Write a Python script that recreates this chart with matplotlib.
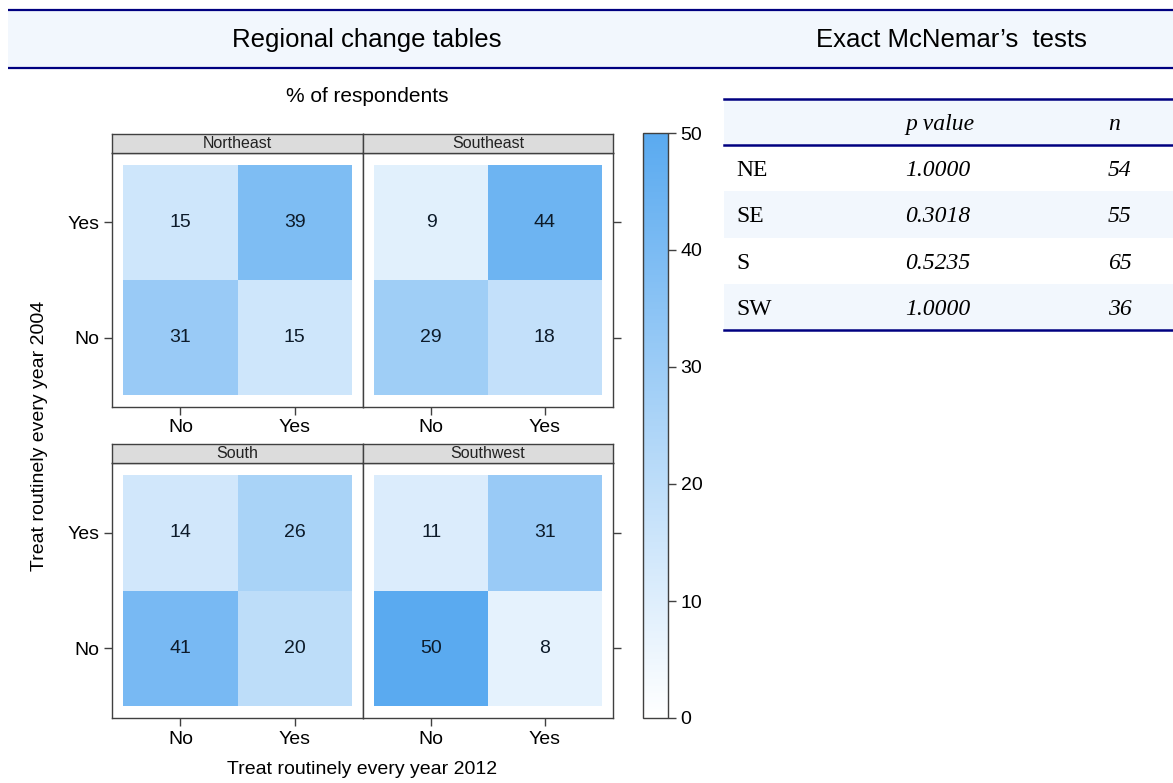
import numpy as np
import matplotlib
matplotlib.use("Agg")
import matplotlib.pyplot as plt
from matplotlib.colors import LinearSegmentedColormap
from matplotlib.patches import Rectangle

W, H = 1173, 783

# % of respondents; rows = answer in 2004 (No, Yes), cols = answer in 2012 (No, Yes)
regions = ['Northeast', 'Southeast', 'South', 'Southwest']
answers = ['No', 'Yes']
pct_northeast = [[31, 15], [15, 39]]
pct_southeast = [[29, 18], [9, 44]]
pct_south = [[41, 20], [14, 26]]
pct_southwest = [[50, 8], [11, 31]]

# McNemar table
table_regions = ['NE', 'SE', 'S', 'SW']
p_values = ['1.0000', '0.3018', '0.5235', '1.0000']
n_values = [54, 55, 65, 36]

plt.rcParams['font.family'] = ['Liberation Sans', 'DejaVu Sans']
navy = '#000080'
light = '#f2f7fd'
edge = '#404040'
cmap = LinearSegmentedColormap.from_list('blues', ['#ffffff', '#5aaaf0'])


def box(x0, y0, x1, y1):
    # pixel box measured from top-left -> figure fraction rect
    return [x0 / W, 1 - y1 / H, (x1 - x0) / W, (y1 - y0) / H]


fig = plt.figure(figsize=(W / 100, H / 100), dpi=100)

# background overlay in pixel coords
bg = fig.add_axes([0, 0, 1, 1], zorder=-5)
bg.set_xlim(0, W)
bg.set_ylim(H, 0)
bg.axis('off')

# header band
bg.add_patch(Rectangle((8, 10), W - 8, 58, facecolor=light, edgecolor='none'))
bg.hlines([10, 68], 8, W, color=navy, lw=1.6)
bg.text(367, 40, 'Regional change tables', fontsize=18.5, ha='center', va='center')
bg.text(951, 40, 'Exact McNemar\u2019s  tests', fontsize=18.5, ha='center', va='center')

# panel title and axis labels
bg.text(367, 97, '% of respondents', fontsize=15, ha='center', va='center')
bg.text(362, 770, 'Treat routinely every year 2012', fontsize=14, ha='center', va='center')
bg.text(40, 436, 'Treat routinely every year 2004', fontsize=14, ha='center', va='center',
        rotation=90)

# lattice panels
panel_data = [pct_northeast, pct_southeast, pct_south, pct_southwest]
cols = [(112, 363), (363, 613)]
rows = [(153, 407), (463, 718)]
strips = [(134, 153), (444, 463)]
edges = np.array([-0.5, 0.5, 1.5])
mesh = None
for k, (name, vals) in enumerate(zip(regions, panel_data)):
    r, c = divmod(k, 2)
    x0, x1 = cols[c]
    y0, y1 = rows[r]
    ax = fig.add_axes(box(x0, y0, x1, y1))
    vals = np.array(vals)
    mesh = ax.pcolormesh(edges, edges, vals, cmap=cmap, vmin=0, vmax=50)
    for i in range(2):
        for j in range(2):
            ax.text(j, i, str(vals[i, j]), ha='center', va='center', fontsize=14,
                    color='#0d1b2a', weight='medium')
    ax.set_xlim(-0.6, 1.6)
    ax.set_ylim(-0.6, 1.6)
    ax.set_xticks([0, 1])
    ax.set_xticklabels(answers, fontsize=14)
    ax.set_yticks([0, 1])
    if c == 0:
        ax.set_yticklabels(answers, fontsize=14)
        ax.tick_params(axis='y', left=True, right=False)
    else:
        ax.yaxis.tick_right()
        ax.set_yticklabels([])
    ax.tick_params(direction='out', length=6, width=1, color=edge, pad=3)
    for s in ax.spines.values():
        s.set_color(edge)
        s.set_linewidth(1)

    sa = fig.add_axes(box(x0, strips[r][0], x1, strips[r][1]))
    sa.set_facecolor('#dcdcdc')
    sa.set_xticks([])
    sa.set_yticks([])
    for s in sa.spines.values():
        s.set_color(edge)
        s.set_linewidth(1)
    sa.text(0.5, 0.5, name, transform=sa.transAxes, ha='center', va='center',
            fontsize=11.5, color='#222222')

# colour key
cax = fig.add_axes(box(643, 133, 668, 718))
cb = fig.colorbar(mesh, cax=cax, ticks=range(0, 51, 10))
cb.outline.set_edgecolor(edge)
cb.outline.set_linewidth(1)
cax.tick_params(direction='out', length=6, width=1, color=edge, labelsize=14, pad=3)

# McNemar table
tx0, ty0, tx1, ty1 = 724, 99, W, 330
tab = fig.add_axes(box(tx0, ty0, tx1, ty1))
tab.set_xlim(0, tx1 - tx0)
tab.set_ylim(len(table_regions) + 1, 0)
tab.axis('off')
tab.axhspan(0, 1, color=light, lw=0)
for i in range(len(table_regions)):
    if i % 2 == 1:
        tab.axhspan(i + 1, i + 2, color=light, lw=0)
for yl in [0, 1, len(table_regions) + 1]:
    tab.axhline(yl, color=navy, lw=1.8, clip_on=False)
serif = ['Liberation Serif', 'DejaVu Serif']
tab.text(181, 0.55, 'p value', family=serif, style='italic', fontsize=17, va='center')
tab.text(384, 0.55, 'n', family=serif, style='italic', fontsize=17, va='center')
for i, (reg, p, n) in enumerate(zip(table_regions, p_values, n_values)):
    yc = i + 1.55
    tab.text(12, yc, reg, family=serif, fontsize=17, va='center')
    tab.text(181, yc, p, family=serif, style='italic', fontsize=17, va='center')
    tab.text(384, yc, str(n), family=serif, style='italic', fontsize=17, va='center')

fig.savefig('out.png', dpi=100)
